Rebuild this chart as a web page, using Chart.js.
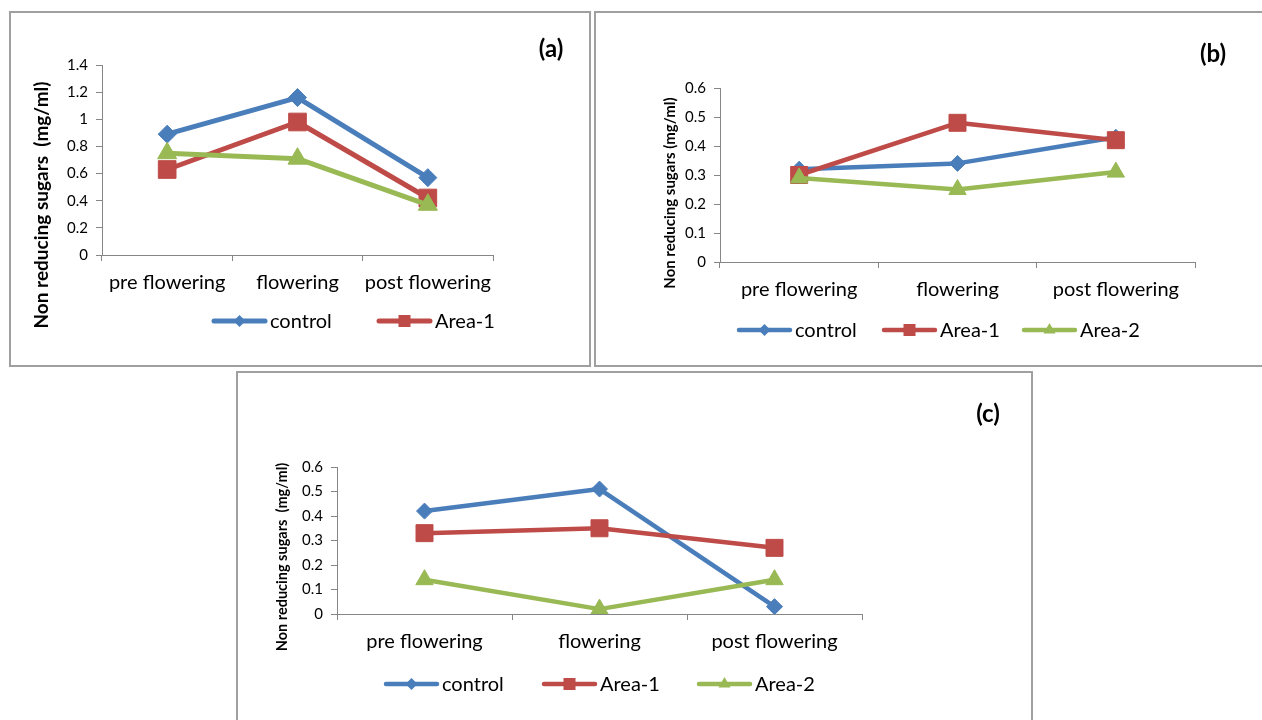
<!DOCTYPE html>
<html>
<head>
<meta charset="utf-8">
<script src="https://cdn.jsdelivr.net/npm/chart.js@4.4.1/dist/chart.umd.min.js"></script>
<style>
  body { margin: 0; background: #fff; width: 1262px; height: 720px; overflow: hidden; position: relative; }
  .panel { position: absolute; }
  .panel canvas { position: absolute; left: 0; top: 0; }
  .frame { position: absolute; left: 0; top: 0; right: 0; bottom: 0; border: 2px solid #a0a0a0; box-sizing: border-box; pointer-events: none; }
</style>
</head>
<body>
<div class="panel" id="pa"><canvas id="ca"></canvas><div class="frame"></div></div>
<div class="panel" id="pb"><canvas id="cb"></canvas><div class="frame"></div></div>
<div class="panel" id="pc"><canvas id="cc"></canvas><div class="frame"></div></div>
<script>
const categories = ['pre flowering', 'flowering', 'post flowering'];
const seriesNames = ['control', 'Area-1', 'Area-2'];

// (a)
const controlA = [0.89, 1.16, 0.57];
const area1A = [0.63, 0.98, 0.42];
const area2A = [0.75, 0.71, 0.37];
// (b)
const controlB = [0.32, 0.34, 0.43];
const area1B = [0.30, 0.48, 0.42];
const area2B = [0.29, 0.25, 0.31];
// (c)
const controlC = [0.42, 0.51, 0.03];
const area1C = [0.33, 0.35, 0.27];
const area2C = [0.14, 0.02, 0.14];

const yMaxA = 1.4, yStepA = 0.2;
const yMaxB = 0.6, yStepB = 0.1;
const yMaxC = 0.6, yStepC = 0.1;

const yTitleA = 'Non reducing sugars  (mg/ml)';
const yTitleB = 'Non reducing sugars (mg/ml)';
const yTitleC = 'Non reducing sugars  (mg/ml)';

const colors = ['#4a7ebb', '#be4b48', '#98b954'];
const markers = ['rectRot', 'rect', 'triangle'];
const FONT = 'Lato, "Liberation Sans", sans-serif';
const AXIS = '#868686';
const LABEL_SIZE = 20;

// page positions of each panel: box [x, y, w, h], plot area [left, top, right, bottom]
const panels = [
  { canvas: 'ca', div: 'pa', label: '(a)', box: [9, 11, 582, 356], plot: [102, 65, 493, 255],
    series: [controlA, area1A, area2A], yMax: yMaxA, yStep: yStepA,
    yTitle: yTitleA, yTitleAt: [42, 205], yTitleSize: 19, labelAt: [551, 49],
    tickSize: 15, lineW: 5, radii: [9, 12.5, 11],
    legendY: 321, legendX: [212, 377], legendLineW: 5, legendRadii: [6, 8.5, 7] },
  { canvas: 'cb', div: 'pb', label: '(b)', box: [594, 11, 680, 356], plot: [720, 88, 1195, 262],
    series: [controlB, area1B, area2B], yMax: yMaxB, yStep: yStepB,
    yTitle: yTitleB, yTitleAt: [670, 193], yTitleSize: 15, labelAt: [1213, 54],
    tickSize: 15, lineW: 4.5, radii: [8, 12, 10],
    legendY: 330, legendX: [737, 882, 1022], legendLineW: 4.5, legendRadii: [6, 8.5, 7] },
  { canvas: 'cc', div: 'pc', label: '(c)', box: [236, 371, 797, 360], plot: [337, 467, 862, 614],
    series: [controlC, area1C, area2C], yMax: yMaxC, yStep: yStepC,
    yTitle: yTitleC, yTitleAt: [282, 557], yTitleSize: 14.5, labelAt: [988, 414],
    tickSize: 15, lineW: 4.5, radii: [8, 12, 10],
    legendY: 684, legendX: [384, 542, 697], legendLineW: 4.5, legendRadii: [6, 8.5, 7] }
];

const YW = 40, XH = 40;

// panel letter, rotated y title and Excel-style legend (line with marker)
const panelDecor = {
  id: 'panelDecor',
  afterDraw(chart, args, o) {
    const ctx = chart.ctx;
    const ox = o.box[0], oy = o.box[1];
    ctx.save();
    ctx.fillStyle = '#000';
    ctx.textAlign = 'center';
    ctx.textBaseline = 'middle';
    ctx.font = 'bold 24px ' + FONT;
    ctx.fillText(o.label, o.labelAt[0] - ox, o.labelAt[1] - oy);

    ctx.save();
    ctx.translate(o.yTitleAt[0] - ox, o.yTitleAt[1] - oy);
    ctx.rotate(-Math.PI / 2);
    ctx.font = 'bold ' + o.yTitleSize + 'px ' + FONT;
    ctx.fillText(o.yTitle, 0, 0);
    ctx.restore();

    ctx.font = LABEL_SIZE + 'px ' + FONT;
    ctx.textAlign = 'left';
    o.legendX.forEach((lx, i) => {
      const ds = chart.data.datasets[i];
      const x = lx - ox, y = o.legendY - oy;
      ctx.strokeStyle = ds.borderColor;
      ctx.lineWidth = o.legendLineW;
      ctx.lineCap = 'round';
      ctx.beginPath();
      ctx.moveTo(x + 2, y);
      ctx.lineTo(x + 53, y);
      ctx.stroke();
      ctx.fillStyle = ds.borderColor;
      Chart.helpers.drawPoint(ctx, { pointStyle: ds.pointStyle, radius: o.legendRadii[i], borderWidth: 0, rotation: 0 }, x + 27.5, y);
      ctx.fillStyle = '#000';
      ctx.fillText(ds.label, x + 58, y + 1);
    });
    ctx.restore();
  }
};

panels.forEach(p => {
  const [bx, by, bw, bh] = p.box;
  const div = document.getElementById(p.div);
  div.style.left = bx + 'px';
  div.style.top = by + 'px';
  div.style.width = bw + 'px';
  div.style.height = bh + 'px';
  const canvas = document.getElementById(p.canvas);
  canvas.width = bw;
  canvas.height = bh;

  const [pl, pt, pr, pb] = p.plot;

  new Chart(canvas, {
    type: 'line',
    data: {
      labels: categories,
      datasets: p.series.map((d, i) => ({
        label: seriesNames[i],
        data: d,
        borderColor: colors[i],
        backgroundColor: colors[i],
        borderWidth: p.lineW,
        borderJoinStyle: 'round',
        borderCapStyle: 'round',
        pointStyle: markers[i],
        pointRadius: p.radii[i],
        pointBackgroundColor: colors[i],
        pointBorderColor: colors[i],
        pointBorderWidth: 1,
        tension: 0,
        order: 3 - i
      }))
    },
    options: {
      responsive: false,
      animation: false,
      layout: {
        padding: {
          left: pl - bx - YW,
          top: pt - by,
          right: bw - (pr - bx),
          bottom: bh - (pb - by) - XH
        }
      },
      plugins: {
        legend: { display: false },
        tooltip: { enabled: false },
        panelDecor: p
      },
      scales: {
        x: {
          offset: true,
          grid: { offset: true, drawOnChartArea: false, tickLength: 6, color: AXIS },
          border: { color: AXIS, width: 1 },
          ticks: { font: { family: FONT, size: LABEL_SIZE }, color: '#000', padding: 10, maxRotation: 0, autoSkip: false },
          afterFit: s => { s.height = XH; }
        },
        y: {
          min: 0,
          max: p.yMax,
          grid: { drawOnChartArea: false, tickLength: 6, color: AXIS },
          border: { color: AXIS, width: 1 },
          ticks: {
            stepSize: p.yStep,
            font: { family: FONT, size: p.tickSize },
            color: '#000',
            padding: 8,
            callback: v => String(+v.toFixed(1))
          },
          afterFit: s => { s.width = YW; }
        }
      }
    },
    plugins: [panelDecor]
  });
});
</script>
</body>
</html>
